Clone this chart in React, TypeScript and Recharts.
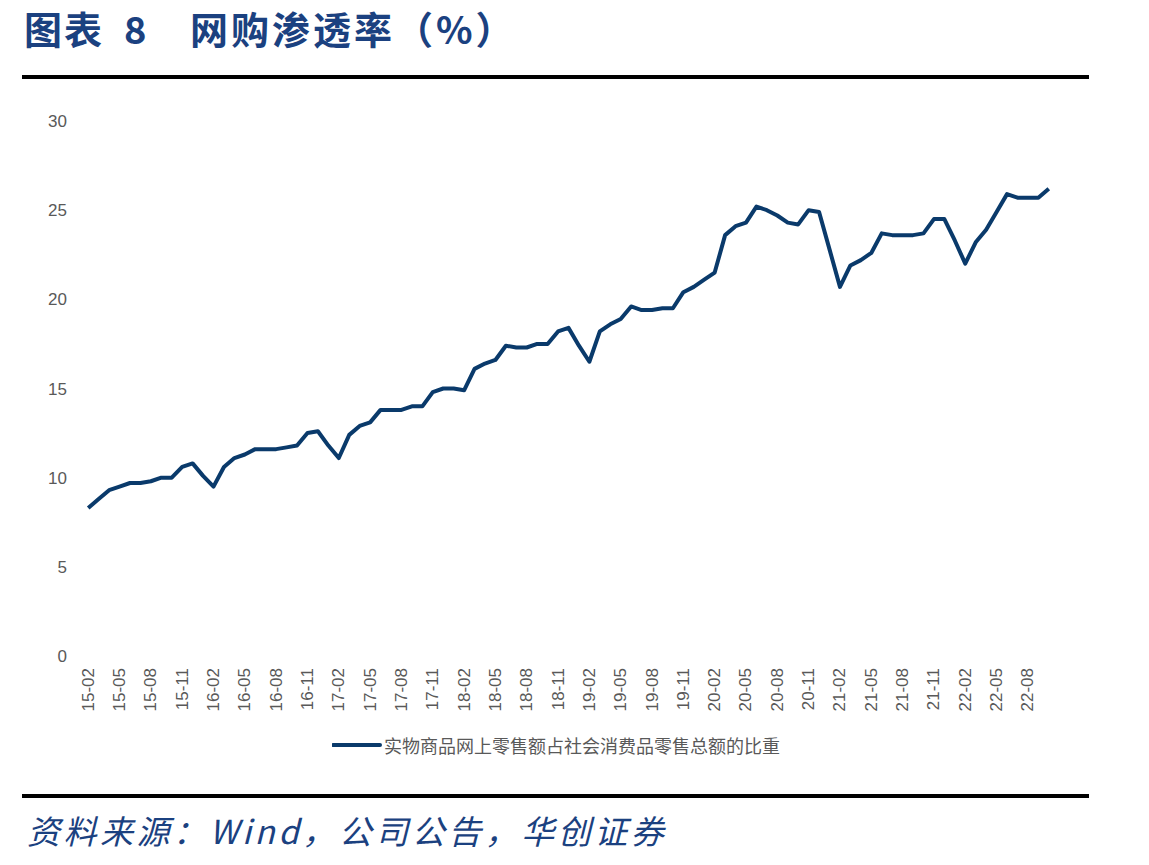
import { Legend, Line, LineChart, XAxis, YAxis } from "recharts";

// monthly, 15-02 .. 22-10
const months = [
  "15-02", "15-03", "15-04", "15-05", "15-06", "15-07", "15-08", "15-09", "15-10", "15-11", "15-12",
  "16-01", "16-02", "16-03", "16-04", "16-05", "16-06", "16-07", "16-08", "16-09", "16-10", "16-11", "16-12",
  "17-01", "17-02", "17-03", "17-04", "17-05", "17-06", "17-07", "17-08", "17-09", "17-10", "17-11", "17-12",
  "18-01", "18-02", "18-03", "18-04", "18-05", "18-06", "18-07", "18-08", "18-09", "18-10", "18-11", "18-12",
  "19-01", "19-02", "19-03", "19-04", "19-05", "19-06", "19-07", "19-08", "19-09", "19-10", "19-11", "19-12",
  "20-01", "20-02", "20-03", "20-04", "20-05", "20-06", "20-07", "20-08", "20-09", "20-10", "20-11", "20-12",
  "21-01", "21-02", "21-03", "21-04", "21-05", "21-06", "21-07", "21-08", "21-09", "21-10", "21-11", "21-12",
  "22-01", "22-02", "22-03", "22-04", "22-05", "22-06", "22-07", "22-08", "22-09", "22-10",
];

// 实物商品网上零售额占社会消费品零售总额的比重 (%)
const share = [
  8.3, 8.8, 9.3, 9.5, 9.7, 9.7, 9.8, 10.0, 10.0, 10.6, 10.8,
  10.1, 9.5, 10.6, 11.1, 11.3, 11.6, 11.6, 11.6, 11.7, 11.8, 12.5, 12.6,
  11.8, 11.1, 12.4, 12.9, 13.1, 13.8, 13.8, 13.8, 14.0, 14.0, 14.8, 15.0,
  15.0, 14.9, 16.1, 16.4, 16.6, 17.4, 17.3, 17.3, 17.5, 17.5, 18.2, 18.4,
  17.4, 16.5, 18.2, 18.6, 18.9, 19.6, 19.4, 19.4, 19.5, 19.5, 20.4, 20.7,
  21.1, 21.5, 23.6, 24.1, 24.3, 25.2, 25.0, 24.7, 24.3, 24.2, 25.0, 24.9,
  22.8, 20.7, 21.9, 22.2, 22.6, 23.7, 23.6, 23.6, 23.6, 23.7, 24.5, 24.5,
  23.3, 22.0, 23.2, 23.9, 24.9, 25.9, 25.7, 25.7, 25.7, 26.2,
];

const yTicks = [0, 5, 10, 15, 20, 25, 30];
const seriesName = "实物商品网上零售额占社会消费品零售总额的比重";

const data = months.map((m, i) => ({ idx: i, month: m, share: share[i] }));

// label every 3rd month, tick marks sit on the category boundaries
const labelTicks = months.map((_, i) => i).filter((i) => i % 3 === 0);
const boundaryTicks = [...labelTicks.map((i) => i - 0.5), months.length - 0.5];
const xDomain = [-0.5, months.length - 0.5];

const NAVY = "#0a3a6b";
const TITLE_BLUE = "#1b4180";
const GREY = "#595959";
const CJK = "'Noto Sans CJK SC', sans-serif";

function MonthTick({ x, y, payload }: any) {
  const ty = y + 4;
  return (
    <text
      x={x}
      y={ty}
      transform={`rotate(-90 ${x} ${ty})`}
      textAnchor="end"
      dominantBaseline="central"
      fill={GREY}
      fontSize={17}
      fontFamily="'Liberation Sans', Arial, sans-serif"
    >
      {months[payload.value]}
    </text>
  );
}

function LegendBox() {
  return (
    <div style={{ display: "flex", alignItems: "center", height: 24 }}>
      <svg width={50} height={8}>
        <line x1={1} y1={4} x2={48} y2={4} stroke={NAVY} strokeWidth={4} strokeLinecap="round" />
      </svg>
      <span style={{ marginLeft: 2, fontSize: 18, color: GREY, fontFamily: CJK }}>{seriesName}</span>
    </div>
  );
}

const titleStyle = {
  position: "absolute" as const,
  top: 0,
  fontSize: 38,
  lineHeight: "55px",
  fontWeight: 700,
  color: TITLE_BLUE,
  fontFamily: CJK,
  whiteSpace: "pre" as const,
};

export default function App() {
  return (
    <div style={{ position: "absolute", left: 0, top: 0, width: 1149, height: 865, background: "#fff" }}>
      <div style={{ ...titleStyle, left: 24, letterSpacing: 2 }}>图表</div>
      <div style={{ ...titleStyle, left: 124 }}>8</div>
      <div style={{ ...titleStyle, left: 190, letterSpacing: 3 }}>网购渗透率（%）</div>
      <div style={{ position: "absolute", left: 22, top: 75, width: 1067, height: 4, background: "#000" }} />

      <div style={{ position: "absolute", left: 0, top: 0 }}>
        <LineChart width={1149} height={780} data={data} margin={{ top: 121, right: 95, left: 0, bottom: 23 }}>
          <XAxis
            xAxisId="marks"
            dataKey="idx"
            type="number"
            domain={xDomain}
            ticks={boundaryTicks}
            interval={0}
            height={0}
            tick={false}
            tickSize={6}
            axisLine={{ stroke: "#d9d9d9", strokeWidth: 1.5 }}
            tickLine={{ stroke: "#d9d9d9", strokeWidth: 1.5 }}
          />
          <XAxis
            xAxisId="labels"
            dataKey="idx"
            type="number"
            domain={xDomain}
            ticks={labelTicks}
            interval={0}
            height={77}
            axisLine={false}
            tickLine={false}
            tick={<MonthTick />}
          />
          <YAxis
            domain={[0, 30]}
            ticks={yTicks}
            interval={0}
            width={83}
            axisLine={false}
            tickLine={false}
            tickMargin={10}
            tick={{ fill: GREY, fontSize: 17, fontFamily: "'Liberation Sans', Arial, sans-serif" }}
          />
          <Legend
            verticalAlign="bottom"
            height={24}
            content={() => <LegendBox />}
            wrapperStyle={{ left: 332, width: 520 }}
          />
          <Line
            xAxisId="marks"
            dataKey="share"
            name={seriesName}
            type="linear"
            stroke={NAVY}
            strokeWidth={4}
            strokeLinejoin="round"
            dot={false}
            isAnimationActive={false}
          />
        </LineChart>
      </div>

      <div style={{ position: "absolute", left: 22, top: 794, width: 1067, height: 4, background: "#000" }} />
      <div
        style={{
          position: "absolute",
          left: 27,
          top: 808,
          fontSize: 33,
          lineHeight: "44px",
          letterSpacing: 3.5,
          fontStyle: "italic",
          color: TITLE_BLUE,
          fontFamily: CJK,
          whiteSpace: "pre",
        }}
      >
        资料来源：Wind，公司公告，华创证券
      </div>
    </div>
  );
}
